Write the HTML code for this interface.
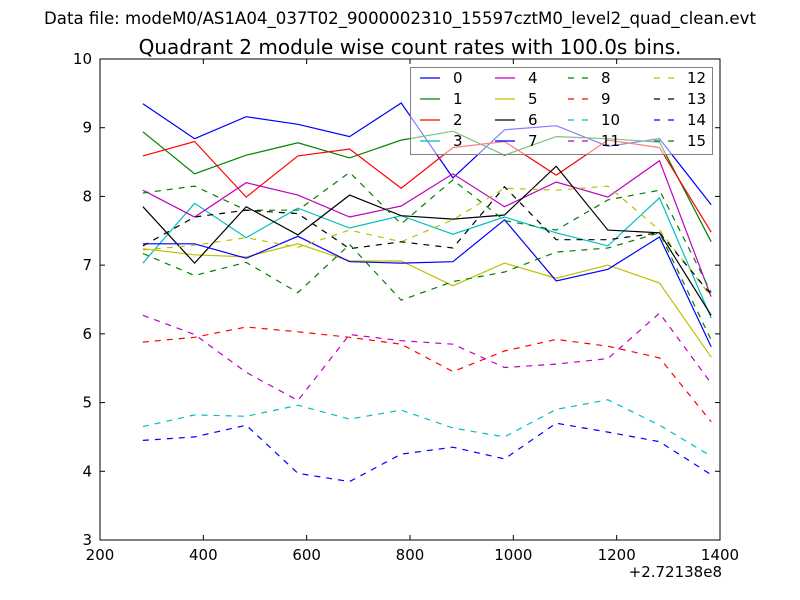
<!DOCTYPE html>
<html><head><meta charset="utf-8"><style>
body{margin:0;background:#fff;}
svg{display:block;font-family:"DejaVu Sans","Liberation Sans",sans-serif;}
</style></head><body>
<svg id="chart" width="800" height="600" viewBox="0 0 800 600" xmlns="http://www.w3.org/2000/svg">
<rect width="800" height="600" fill="#fff"/>
<text x="400" y="24" font-size="16.6" text-anchor="middle">Data file: modeM0/AS1A04_037T02_9000002310_15597cztM0_level2_quad_clean.evt</text>
<text x="410" y="54" font-size="20" text-anchor="middle">Quadrant 2 module wise count rates with 100.0s bins.</text>
<g id="marks"></g>
<g id="axes"></g>
<g id="legend"></g>
</svg>
<script>
const xVals=[283,383,483,583,683,783,883,983,1083,1183,1283,1383];
const s0=[9.35,8.84,9.16,9.05,8.87,9.36,8.27,8.97,9.03,8.73,8.84,7.88];
const s1=[8.94,8.33,8.60,8.78,8.56,8.82,8.95,8.60,8.87,8.84,8.79,7.34];
const s2=[8.59,8.80,7.99,8.59,8.69,8.12,8.71,8.80,8.31,8.82,8.71,7.48];
const s3=[7.03,7.90,7.40,7.83,7.54,7.72,7.45,7.70,7.47,7.28,7.98,6.23];
const s4=[8.09,7.70,8.20,8.02,7.70,7.86,8.33,7.85,8.21,7.99,8.52,6.54];
const s5=[7.24,7.15,7.12,7.31,7.06,7.06,6.70,7.03,6.81,7.00,6.74,5.66];
const s6=[7.85,7.03,7.85,7.44,8.02,7.72,7.67,7.73,8.44,7.51,7.47,6.27];
const s7=[7.31,7.31,7.10,7.42,7.05,7.03,7.05,7.66,6.77,6.94,7.41,5.81];
const s8=[8.05,8.15,7.80,7.80,8.35,7.60,8.24,7.65,7.51,7.95,8.09,6.60];
const s9=[5.88,5.95,6.10,6.03,5.95,5.85,5.45,5.75,5.92,5.82,5.65,4.72];
const s10=[4.65,4.82,4.80,4.96,4.76,4.89,4.63,4.50,4.90,5.04,4.67,4.22];
const s11=[6.27,5.99,5.44,5.03,5.99,5.90,5.85,5.51,5.56,5.64,6.30,5.28];
const s12=[7.22,7.29,7.40,7.26,7.51,7.34,7.66,8.12,8.09,8.15,7.51,6.54];
const s13=[7.28,7.70,7.80,7.75,7.24,7.34,7.25,8.14,7.37,7.37,7.47,6.57];
const s14=[4.45,4.50,4.67,3.97,3.85,4.25,4.35,4.18,4.70,4.57,4.43,3.95];
const s15=[7.17,6.85,7.04,6.60,7.30,6.49,6.76,6.90,7.19,7.25,7.47,5.91];
const seriesLabels=["0","1","2","3","4","5","6","7","8","9","10","11","12","13","14","15"];
const xTicks=[200,400,600,800,1000,1200,1400];
const yTicks=[3,4,5,6,7,8,9,10];
const series=[s0,s1,s2,s3,s4,s5,s6,s7,s8,s9,s10,s11,s12,s13,s14,s15];
const colors=["#0000ff","#008000","#ff0000","#00bfbf","#bf00bf","#bfbf00","#000000"];
const L=100,R=720,T=59,B=540;
const xs=v=>L+(v-200)/1200*(R-L);
const ys=v=>B-(v-3)/7*(B-T);
const NS="http://www.w3.org/2000/svg";
function mk(tag,attrs,parent){const e=document.createElementNS(NS,tag);for(const k in attrs)e.setAttribute(k,attrs[k]);parent.appendChild(e);return e;}
const marks=document.getElementById('marks');
series.forEach((s,i)=>{
  const pts=s.map((v,j)=>xs(xVals[j]).toFixed(1)+","+ys(v).toFixed(1)).join(" ");
  const p=mk('polyline',{points:pts,fill:'none',stroke:colors[i%7],'stroke-width':1.2},marks);
  if(i>=8)p.setAttribute('stroke-dasharray','6,6');
  
  
});
const ax=document.getElementById('axes');
const frame=mk('rect',{x:L,y:T,width:R-L,height:B-T,fill:'none',stroke:'#000','stroke-width':1},ax);


xTicks.forEach(t=>{
  const x=xs(t);
  mk('line',{x1:x,y1:B,x2:x,y2:B-5,stroke:'#000'},ax);
  mk('line',{x1:x,y1:T,x2:x,y2:T+5,stroke:'#000'},ax);
  const tx=mk('text',{x:x,y:B+20,'font-size':15,'text-anchor':'middle'},ax);
  tx.textContent=t;
  
  
});
yTicks.forEach(t=>{
  const y=ys(t);
  mk('line',{x1:L,y1:y,x2:L+5,y2:y,stroke:'#000'},ax);
  mk('line',{x1:R,y1:y,x2:R-5,y2:y,stroke:'#000'},ax);
  const tx=mk('text',{x:L-8,y:y+5,'font-size':15,'text-anchor':'end'},ax);
  tx.textContent=t;
  
  
});
const off=mk('text',{x:R+2,y:B+37,'font-size':15,'text-anchor':'end'},ax);
off.textContent="+2.72138e8";


const lg=document.getElementById('legend');
const box=mk('rect',{x:410.5,y:67.5,width:302,height:87,fill:'rgba(255,255,255,0.5)',stroke:'#808080','stroke-width':1},lg);


const colX=[420,495,568,654];
seriesLabels.forEach((lab,i)=>{
  const c=Math.floor(i/4),r=i%4;
  const x0=colX[c],y0=78+r*21;
  const ln=mk('line',{x1:x0,y1:y0,x2:x0+20,y2:y0,stroke:colors[i%7],'stroke-width':1.2},lg);
  if(i>=8)ln.setAttribute('stroke-dasharray','6,8');
  
  
  const tx=mk('text',{x:x0+33,y:y0+5,'font-size':15},lg);
  tx.textContent=lab;
  
  
});
</script>
</body></html>
